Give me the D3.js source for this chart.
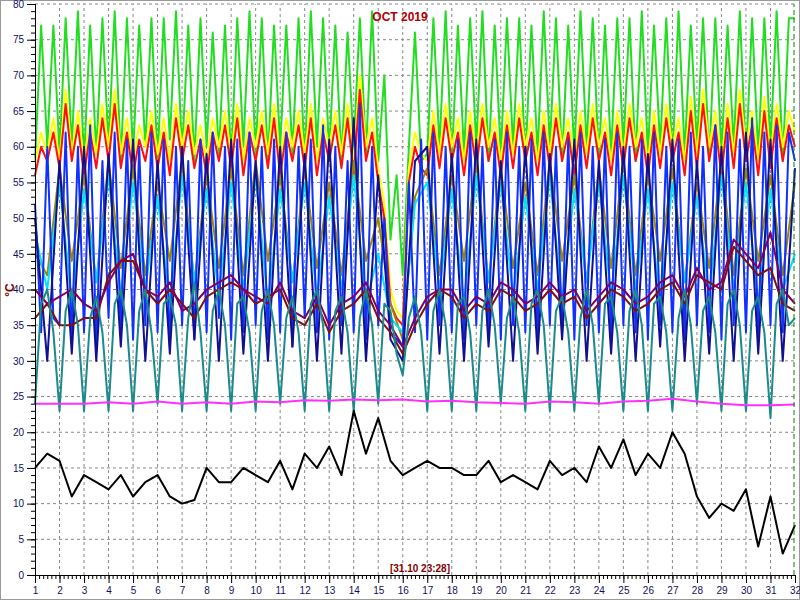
<!DOCTYPE html>
<html>
<head>
<script src="https://d3js.org/d3.v7.min.js"></script>
<style>body{margin:0;background:#fff}</style>
</head>
<body>
<script>
// series sampled 4x per day (t = 1 + i/4)
var green = [58,77,60,77, 59,78,60,79, 58,77,59,78, 60,79,58,78, 59,77,60,78, 58,78,61,79, 59,77,58,78, 60,76,59,77,
  58,78,60,79, 59,78,58,77, 60,77,59,78, 58,79,60,78, 59,77,58,76, 60,78,59,79, 58,70,47,56, 42,60,76,58,
  59,78,60,79, 58,77,59,78, 60,79,58,77, 59,78,60,78, 58,77,59,79, 60,78,58,77, 59,79,60,78, 58,77,59,78,
  60,78,58,79, 59,77,60,78, 58,79,59,77, 60,78,58,78, 59,77,60,79, 58,78,59,78, 60,79,58,78, 78];
var red = [56,60,58,62, 57,66,58,63, 56,62,57,64, 58,66,57,62, 56,61,58,63, 57,62,56,64, 58,63,57,61, 56,62,58,63,
  57,64,56,62, 58,63,57,64, 56,62,58,63, 57,64,56,62, 58,63,57,64, 56,68,58,62, 55,50,38,36, 35,55,60,57,
  56,63,57,64, 58,62,56,63, 57,64,58,62, 56,63,57,64, 58,62,56,63, 57,64,58,62, 56,63,57,64, 58,62,56,63,
  57,64,58,62, 56,63,57,64, 58,62,56,65, 57,66,58,63, 56,64,57,66, 58,63,56,65, 57,64,58,63, 60];
var yellow = [58,62,59,64, 58,68,59,65, 58,64,59,66, 60,68,59,64, 58,63,60,65, 59,64,58,66, 60,65,59,63, 58,64,60,65,
  59,66,58,64, 60,65,59,66, 58,64,60,65, 59,66,58,64, 60,65,59,66, 58,70,60,64, 57,52,40,37, 36,57,62,59,
  58,65,59,66, 60,64,58,65, 59,66,60,64, 58,65,59,66, 60,64,58,65, 59,66,60,64, 58,65,59,66, 60,64,58,65,
  59,66,60,64, 58,65,59,66, 60,64,58,67, 59,68,60,65, 58,66,59,68, 60,65,58,67, 59,66,60,65, 62];
var blue = [52,34,60,36, 35,62,33,60, 34,63,32,58, 36,62,34,61, 33,60,35,62, 34,61,32,60, 35,58,33,61, 34,62,36,60,
  33,61,34,62, 35,60,33,61, 34,62,32,60, 36,61,34,63, 33,60,35,58, 34,66,33,60, 35,50,34,33, 32,55,34,61,
  33,62,35,60, 34,61,33,62, 35,60,34,61, 33,62,35,60, 34,61,33,62, 35,60,34,61, 33,62,35,60, 34,61,33,62,
  35,60,34,61, 33,62,35,60, 34,61,33,62, 35,60,34,63, 33,62,35,61, 34,64,33,62, 35,63,34,62, 58];
var teal = [24,38,40,34, 23,37,40,35, 23,36,39,34, 23,38,40,35, 23,37,40,34, 24,38,39,35, 23,36,41,34, 23,37,40,35,
  23,38,39,34, 23,37,40,35, 24,36,39,34, 23,38,40,35, 23,37,39,34, 23,36,40,35, 24,38,37,31, 28,36,39,34,
  23,37,40,35, 23,38,39,34, 23,37,40,35, 24,36,39,34, 23,38,40,35, 23,37,39,34, 23,36,40,35, 24,38,39,34,
  23,37,40,35, 23,38,39,34, 23,36,40,35, 24,37,39,34, 23,38,40,35, 23,37,39,34, 22,38,40,35, 36];
// series sampled 2x per day (t = 1 + i/2)
var navy = [50,30, 58,31, 60,30, 59,32, 61,30, 58,31, 60,33, 59,30, 61,31, 58,30, 60,32, 59,30, 61,31, 64,30, 56,33, 30,58,
  60,31, 59,30, 61,32, 58,30, 60,31, 59,33, 61,30, 58,31, 60,30, 59,32, 61,30, 58,31, 60,30, 62,31, 61,30, 57];
var cyan = [48,40, 55,38, 54,41, 56,39, 55,40, 53,38, 56,41, 54,39, 55,40, 56,38, 54,41, 55,39, 53,40, 56,38, 45,36, 34,52,
  55,40, 54,38, 56,41, 55,39, 53,40, 56,38, 54,41, 55,39, 56,40, 54,38, 55,41, 53,39, 56,40, 55,38, 54,40, 45];
var olive = [45,42, 57,44, 56,41, 58,43, 57,42, 55,44, 58,41, 56,43, 57,42, 58,44, 56,41, 57,43, 55,42, 58,44, 50,38, 33,53,
  57,42, 56,44, 58,41, 57,43, 55,42, 58,44, 56,41, 57,43, 58,42, 56,44, 57,41, 55,43, 58,42, 57,44, 56,42, 55];
var maroon = [36,38, 35,35, 36,36, 42,44, 44,40, 38,40, 38,36, 39,40, 41,40, 38,39, 40,36, 35,38, 34,37, 38,40, 36,34, 31,35,
  38,40, 39,36, 38,37, 40,39, 37,38, 40,38, 39,36, 38,40, 39,37, 38,40, 41,38, 42,41, 40,46, 44,42, 43,38, 37];
var purple = [40,38, 39,40, 38,37, 41,44, 45,40, 39,41, 37,38, 40,41, 42,40, 39,38, 41,37, 36,39, 35,38, 39,41, 37,35, 32,36,
  39,40, 40,37, 39,38, 41,40, 38,39, 41,39, 40,37, 39,41, 40,38, 39,41, 42,39, 43,40, 41,47, 45,43, 48,40, 38];
// sampled once per day (t = 1 + i)
var magenta = [24,24,24,24.2,24,24.3,24,24.2,24,24.3,24.2,24.5,24.4,24.6,24.5,24.6,24.3,24.4,24.2,24.1,24,24.3,24.2,24,24.3,24.4,24.7,24.3,24,23.8,23.8,23.9];
// outdoor, sampled 2x per day
var black = [15,17, 16,11, 14,13, 12,14, 11,13, 14,11, 10,10.5, 15,13, 13,15, 14,13, 16,12, 17,15, 18,14, 23,17, 22,16, 14,15,
  16,15, 15,14, 14,16, 13,14, 13,12, 16,14, 15,13, 18,15, 19,14, 17,15, 20,17, 11,8, 10,9, 12,4, 11,3, 7];

var series = [
  {v: green, n: 4, c: "#22dd22"},
  {v: yellow, n: 4, c: "#ffff00"},
  {v: red, n: 4, c: "#ff1010"},
  {v: olive, n: 2, c: "#998800"},
  {v: cyan, n: 2, c: "#00e0ff"},
  {v: blue, n: 4, c: "#1030ff"},
  {v: navy, n: 2, c: "#101090"},
  {v: maroon, n: 2, c: "#801010"},
  {v: purple, n: 2, c: "#800060"},
  {v: teal, n: 4, c: "#1a8a8a"},
  {v: magenta, n: 1, c: "#ff30ff"},
  {v: black, n: 2, c: "#000000"}
];

var W = 800, H = 600;
var svg = d3.select("body").append("svg").attr("width", W).attr("height", H)
  .style("font-family", "Arial, Liberation Sans, sans-serif");
svg.append("rect").attr("x", 0.5).attr("y", 0.5).attr("width", W - 1).attr("height", H - 1)
  .attr("fill", "#fff").attr("stroke", "#999");

var x = d3.scaleLinear().domain([1, 32]).range([35, 795]);
var y = d3.scaleLinear().domain([0, 80]).range([575, 4]);

// grid
var g = svg.append("g").attr("stroke", "#888").attr("stroke-dasharray", "3,3");
d3.range(2, 32).forEach(function(d) {
  g.append("line").attr("x1", x(d)).attr("x2", x(d)).attr("y1", y(0)).attr("y2", y(80));
});
d3.range(5, 81, 5).forEach(function(d) {
  g.append("line").attr("x1", x(1)).attr("x2", x(32)).attr("y1", y(d)).attr("y2", y(d));
});

// lines
var line = d3.line().x(function(d) { return x(d[0]); }).y(function(d) { return y(d[1]); });
series.forEach(function(s) {
  var pts = s.v.map(function(v, i) { return [1 + i / s.n, v]; });
  svg.append("path").attr("d", line(pts)).attr("fill", "none")
    .attr("stroke", s.c).attr("stroke-width", 2).attr("stroke-linejoin", "round");
});

// current time marker
svg.append("line").attr("x1", x(32) - 1).attr("x2", x(32) - 1).attr("y1", y(0)).attr("y2", y(80))
  .attr("stroke", "#008800").attr("stroke-dasharray", "5,3");

// axes
var ya = svg.append("g").attr("transform", "translate(" + x(1) + ",0)")
  .call(d3.axisLeft(y).tickValues(d3.range(0, 81, 5)).tickSize(8).tickPadding(3));
var ym = svg.append("g").attr("transform", "translate(" + x(1) + ",0)")
  .call(d3.axisLeft(y).tickValues(d3.range(0, 81, 1)).tickSize(4).tickFormat(""));
var xa = svg.append("g").attr("transform", "translate(0," + y(0) + ")")
  .call(d3.axisBottom(x).tickValues(d3.range(1, 33)).tickSize(8).tickFormat(d3.format("d")).tickPadding(4));
var xm = svg.append("g").attr("transform", "translate(0," + y(0) + ")")
  .call(d3.axisBottom(x).tickValues(d3.range(1, 32, 1 / 6)).tickSize(4).tickFormat(""));
[ya, ym, xa, xm].forEach(function(a) {
  a.selectAll(".domain").attr("stroke", "#000");
  a.selectAll("line").attr("stroke", "#000");
  a.selectAll("text").attr("fill", "#101060").attr("font-size", 10).attr("font-family", "Arial, sans-serif");
});

svg.append("text").attr("x", 400).attr("y", 21).attr("text-anchor", "middle")
  .attr("fill", "#b00000").attr("font-size", 12).attr("font-weight", "bold").text("OCT 2019");
svg.append("text").attr("x", 420).attr("y", 572).attr("text-anchor", "middle")
  .attr("fill", "#800000").attr("font-size", 10).attr("font-weight", "bold").text("[31.10 23:28]");
svg.append("text").attr("transform", "translate(14,290) rotate(-90)").attr("text-anchor", "middle")
  .attr("fill", "#800000").attr("font-size", 12).attr("font-weight", "bold").text("°C");
</script>
</body>
</html>
